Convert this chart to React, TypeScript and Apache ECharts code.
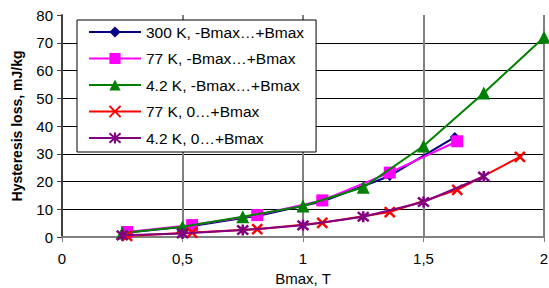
import React, { useEffect, useRef } from "react";
import * as echarts from "echarts";

const xTicks = [0, 0.5, 1, 1.5, 2];
const yTicks = [0, 10, 20, 30, 40, 50, 60, 70, 80];

const names = [
  "300 K, -Bmax…+Bmax",
  "77 K, -Bmax…+Bmax",
  "4.2 K, -Bmax…+Bmax",
  "77 K, 0…+Bmax",
  "4.2 K, 0…+Bmax",
];

const x300 = [0.27, 0.54, 0.81, 1.08, 1.36, 1.63];
const y300 = [1.6, 4.0, 7.6, 12.8, 22.0, 36.0];

const x77 = [0.27, 0.54, 0.81, 1.08, 1.36, 1.64];
const y77 = [1.8, 4.3, 7.9, 13.2, 23.2, 34.5];

const x42 = [0.25, 0.5, 0.75, 1.0, 1.25, 1.5, 1.75, 2.0];
const y42 = [1.4, 3.7, 7.3, 11.2, 17.9, 32.8, 51.9, 72.0];

const x77z = [0.27, 0.54, 0.81, 1.08, 1.36, 1.64, 1.9];
const y77z = [0.4, 1.6, 2.8, 5.1, 9.0, 17.0, 28.9];

const x42z = [0.25, 0.5, 0.75, 1.0, 1.25, 1.5, 1.75];
const y42z = [0.6, 1.3, 2.5, 4.2, 7.3, 12.6, 21.8];

const colors = ["#000080", "#FF00FF", "#008000", "#FF0000", "#800080"];

const zip = (xs: number[], ys: number[]) => xs.map((x, i) => [x, ys[i]]);

const FONT = "Liberation Sans, Arial, sans-serif";

export default function App() {
  const ref = useRef<HTMLDivElement>(null);
  useEffect(() => {
    if (!ref.current) return;
    const chart = echarts.init(ref.current, null, { renderer: "svg" });
    const fmt = (v: number) => String(v).replace(".", ",");
    const symbols = [
      "diamond",
      "rect",
      "triangle",
      "path://M0,0 L10,10 M10,0 L0,10",
      "path://M0,0 L10,10 M10,0 L0,10 M5,-1 L5,11",
    ];
    const sizes = [10, 12, 13, 10, 11];
    const data = [zip(x300, y300), zip(x77, y77), zip(x42, y42), zip(x77z, y77z), zip(x42z, y42z)];
    chart.setOption({
      animation: false,
      textStyle: { fontFamily: FONT },
      grid: { left: 62, right: 5, top: 15, bottom: 51, containLabel: false, outerBoundsMode: "none" },
      legend: {
        show: true,
        left: 77,
        top: 20,
        orient: "vertical",
        backgroundColor: "#fff",
        borderColor: "#000",
        borderWidth: 1,
        borderRadius: 0,
        padding: [4, 12, 6, 11],
        itemWidth: 52,
        itemHeight: 14,
        itemGap: 10.5,
        textStyle: { fontFamily: FONT, fontSize: 15.5, color: "#000" },
        data: names,
      },
      xAxis: [
        {
          type: "value",
          min: 0,
          max: 2,
          interval: 0.5,
          axisLine: { show: true, onZero: false, lineStyle: { color: "#808080", width: 2 } },
          axisTick: { show: true, length: 5, lineStyle: { color: "#808080", width: 1 } },
          axisLabel: {
            formatter: fmt,
            fontFamily: FONT,
            fontSize: 15,
            color: "#000",
            margin: 14,
            customValues: xTicks,
          },
          splitLine: { show: true, lineStyle: { color: "#808080", width: 2 } },
          name: "Bmax, T",
          nameLocation: "middle",
          nameGap: 31,
          nameTextStyle: { fontFamily: FONT, fontSize: 15, color: "#000" },
        },
        {
          type: "value",
          position: "top",
          min: 0,
          max: 2,
          axisLine: { show: true, lineStyle: { color: "#808080", width: 2 } },
          axisTick: { show: false },
          axisLabel: { show: false },
          splitLine: { show: false },
        },
      ],
      yAxis: {
        type: "value",
        min: 0,
        max: 80,
        interval: 10,
        axisLine: { show: true, onZero: false, lineStyle: { color: "#404040", width: 2 } },
        axisTick: { show: true, length: 5, lineStyle: { color: "#404040", width: 1 } },
        axisLabel: {
          fontFamily: FONT,
          fontSize: 15,
          color: "#000",
          margin: 9,
          customValues: yTicks,
        },
        splitLine: { show: true, showMaxLine: false, lineStyle: { color: "#000", width: 1 } },
        name: "Hysteresis loss, mJ/kg",
        nameLocation: "middle",
        nameGap: 38,
        nameTextStyle: { fontFamily: FONT, fontSize: 14, fontWeight: "bold", color: "#000" },
      },
      series: names.map((n, i) => ({
        name: n,
        type: "line",
        data: data[i],
        symbol: symbols[i],
        symbolSize: sizes[i],
        showAllSymbol: true,
        lineStyle: { color: colors[i], width: 2 },
        itemStyle:
          i >= 3
            ? { color: colors[i], borderColor: colors[i], borderWidth: 2.5 }
            : { color: colors[i], borderWidth: 0 },
        emphasis: { disabled: true },
        z: 2 + i,
      })),
    });
    return () => chart.dispose();
  }, []);
  return <div ref={ref} style={{ width: 549, height: 288, position: "absolute", left: 0, top: 0 }} />;
}
